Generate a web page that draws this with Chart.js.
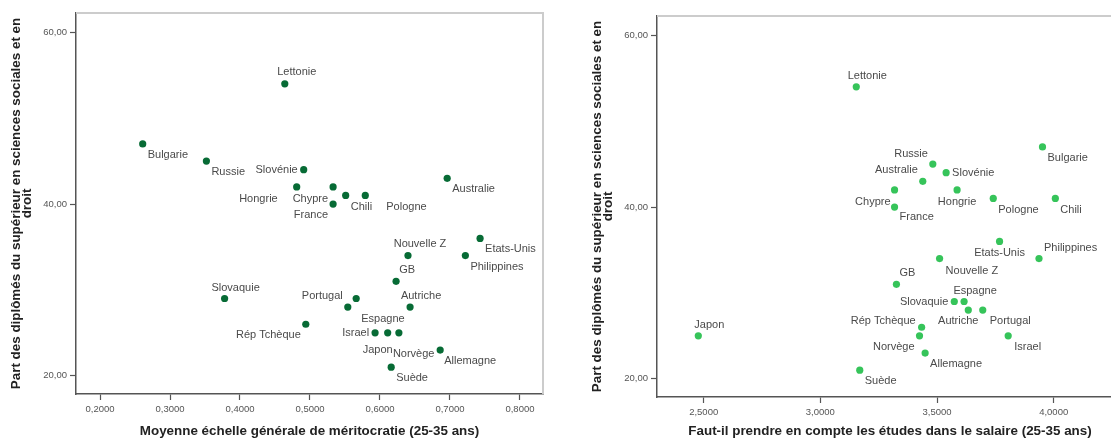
<!DOCTYPE html>
<html>
<head>
<meta charset="utf-8">
<script src="https://cdn.jsdelivr.net/npm/chart.js@4.4.1/dist/chart.umd.min.js"></script>
<style>
  html, body { margin: 0; padding: 0; background: #fff; overflow: hidden; width: 1111px; height: 439px; }
  canvas { position: absolute; top: 0; }
  #left { left: 0; }
  #right { left: 560px; }
</style>
</head>
<body>
<canvas id="left" width="560" height="439"></canvas>
<canvas id="right" width="580" height="439"></canvas>
<script>
const countries = ["Lettonie", "Bulgarie", "Russie", "Slovénie", "Australie", "Hongrie", "Chypre", "Chili",
    "Pologne", "France", "Etats-Unis", "Nouvelle Z", "Philippines", "GB", "Slovaquie", "Espagne",
    "Portugal", "Autriche", "Rép Tchèque", "Israel", "Japon", "Norvège", "Allemagne", "Suède"];

// part des diplômés en sciences sociales et droit (%)
const socialLawShare = [54, 47, 45, 44, 43, 42, 42, 41, 41, 40, 36, 34, 34, 31, 29, 29, 28, 28, 26, 25, 25, 25, 23, 21];

// moyenne échelle de méritocratie
const meritocracy = [0.464, 0.261, 0.352, 0.491, 0.696, 0.481, 0.533, 0.551, 0.579, 0.533, 0.743, 0.640,
    0.722, 0.623, 0.378, 0.566, 0.554, 0.643, 0.494, 0.593, 0.611, 0.627, 0.686, 0.616];

// études dans le salaire
const studiesInPay = [3.154, 3.952, 3.482, 3.539, 3.439, 3.586, 3.318, 4.007, 3.741, 3.318, 3.768, 3.511,
    3.937, 3.326, 3.574, 3.616, 3.696, 3.634, 3.434, 3.805, 2.477, 3.425, 3.449, 3.169];

const yTicks = [20, 40, 60];
const meritTicks = [0.2, 0.3, 0.4, 0.5, 0.6, 0.7, 0.8];
const studiesTicks = [2.5, 3.0, 3.5, 4.0];

const yTitle = ["Part des diplômés du supérieur en sciences sociales et en", "droit"];

// where each country label sits next to its point: [align, dx, dy]
const leftPlace = [
    ["center", 12, -12], ["left", 5, 11], ["left", 5, 11], ["right", -6, 0], ["left", 5, 11],
    ["right", -19, 12], ["right", -5, 12], ["left", 5, 11], ["left", 21, 11], ["right", -5, 11],
    ["left", 5, 11], ["center", 12, -12], ["left", 5, 11], ["center", 11, -11], ["center", 11, -11],
    ["left", 5, 20], ["right", -5, -11], ["center", 11, -11], ["right", -5, 11], ["right", -6, 0],
    ["center", -10, 17], ["left", -6, 21], ["left", 4, 11], ["left", 5, 11]
];
const rightPlace = [
    ["center", 11, -11], ["left", 5, 11], ["right", -5, -10], ["left", 6, 0], ["right", -5, -11],
    ["center", 0, 12], ["right", -4, 12], ["left", 5, 11], ["left", 5, 11], ["left", 5, 10],
    ["center", 0, 12], ["left", 6, 12], ["left", 5, -11], ["center", 11, -11], ["right", -6, 0],
    ["center", 11, -11], ["left", 7, 11], ["center", -10, 11], ["right", -6, -6], ["left", 6, 11],
    ["center", 11, -11], ["right", -5, 11], ["left", 5, 11], ["left", 5, 11]
];

Chart.defaults.font.family = "'Liberation Sans', Arial, sans-serif";

const pointLabels = {
    id: "pointLabels",
    afterDatasetsDraw(chart, args, opts) {
        const ctx = chart.ctx;
        const meta = chart.getDatasetMeta(0);
        ctx.save();
        ctx.font = "11px 'Liberation Sans', Arial, sans-serif";
        ctx.fillStyle = "#4a4a4a";
        ctx.textBaseline = "middle";
        meta.data.forEach((pt, i) => {
            const p = opts.place[i];
            ctx.textAlign = p[0];
            ctx.fillText(countries[i], pt.x + p[1], pt.y + p[2]);
        });
        ctx.restore();
    }
};

// light grey top and right edges of the plot frame
const frame = {
    id: "frame",
    beforeDatasetsDraw(chart) {
        const { ctx, chartArea: a } = chart;
        ctx.save();
        ctx.strokeStyle = "#cccccc";
        ctx.lineWidth = 2;
        ctx.beginPath();
        ctx.moveTo(a.left, a.top);
        ctx.lineTo(a.right, a.top);
        ctx.lineTo(a.right, a.bottom);
        ctx.stroke();
        ctx.restore();
    }
};

function makeChart(id, xs, cfg) {
    const pts = xs.map((x, i) => ({ x: x, y: socialLawShare[i] }));
    return new Chart(document.getElementById(id), {
        type: "scatter",
        data: {
            datasets: [{
                data: pts,
                backgroundColor: cfg.color,
                borderWidth: 0,
                pointRadius: 3.6
            }]
        },
        options: {
            responsive: false,
            animation: false,
            layout: { padding: cfg.padding },
            plugins: {
                legend: { display: false },
                tooltip: { enabled: false },
                pointLabels: { place: cfg.place }
            },
            scales: {
                x: {
                    min: cfg.xMin,
                    max: cfg.xMax,
                    afterFit: s => { s.height = cfg.xHeight; },
                    afterBuildTicks: s => { s.ticks = cfg.xTicks.map(v => ({ value: v })); },
                    ticks: {
                        callback: v => v.toFixed(4).replace(".", ","),
                        font: { size: 9.5 },
                        color: "#555",
                        padding: 4,
                        maxRotation: 0,
                        autoSkip: false
                    },
                    grid: { drawOnChartArea: false, tickLength: 6, color: "#555", tickWidth: 1.2 },
                    border: { color: "#555", width: 1.5 },
                    title: {
                        display: true,
                        text: cfg.xTitle,
                        color: "#222",
                        font: { size: 13.4, weight: "bold" },
                        padding: { top: 0, bottom: 0 }
                    }
                },
                y: {
                    min: 17.88,
                    max: 62.25,
                    afterFit: s => { s.width = cfg.yWidth; },
                    afterBuildTicks: s => { s.ticks = yTicks.map(v => ({ value: v })); },
                    ticks: {
                        callback: v => v.toFixed(2).replace(".", ","),
                        font: { size: 9.5 },
                        color: "#555",
                        padding: 3
                    },
                    grid: { drawOnChartArea: false, tickLength: 6, color: "#555", tickWidth: 1.2 },
                    border: { color: "#555", width: 1.5 },
                    title: {
                        display: true,
                        text: yTitle,
                        color: "#222",
                        font: { size: 13.4, weight: "bold", lineHeight: 0.88 },
                        padding: { top: cfg.yTitlePad, bottom: 0 }
                    }
                }
            }
        },
        plugins: [frame, pointLabels]
    });
}

makeChart("left", meritocracy, {
    color: "#076b35",
    place: leftPlace,
    padding: { top: 13, right: 17, left: 0, bottom: 0 },
    xMin: 0.1657, xMax: 0.8329,
    xTicks: meritTicks,
    xHeight: 45,
    yWidth: 76,
    yTitlePad: 10,
    xTitle: "Moyenne échelle générale de méritocratie (25-35 ans)"
});

makeChart("right", studiesInPay, {
    color: "#36c45a",
    place: rightPlace,
    padding: { top: 16, right: 17, left: 0, bottom: 0 },
    xMin: 2.3, xMax: 4.297,
    xTicks: studiesTicks,
    xHeight: 42,
    yWidth: 97,
    yTitlePad: 31,
    xTitle: "Faut-il prendre en compte les études dans le salaire (25-35 ans)"
});
</script>
</body>
</html>
